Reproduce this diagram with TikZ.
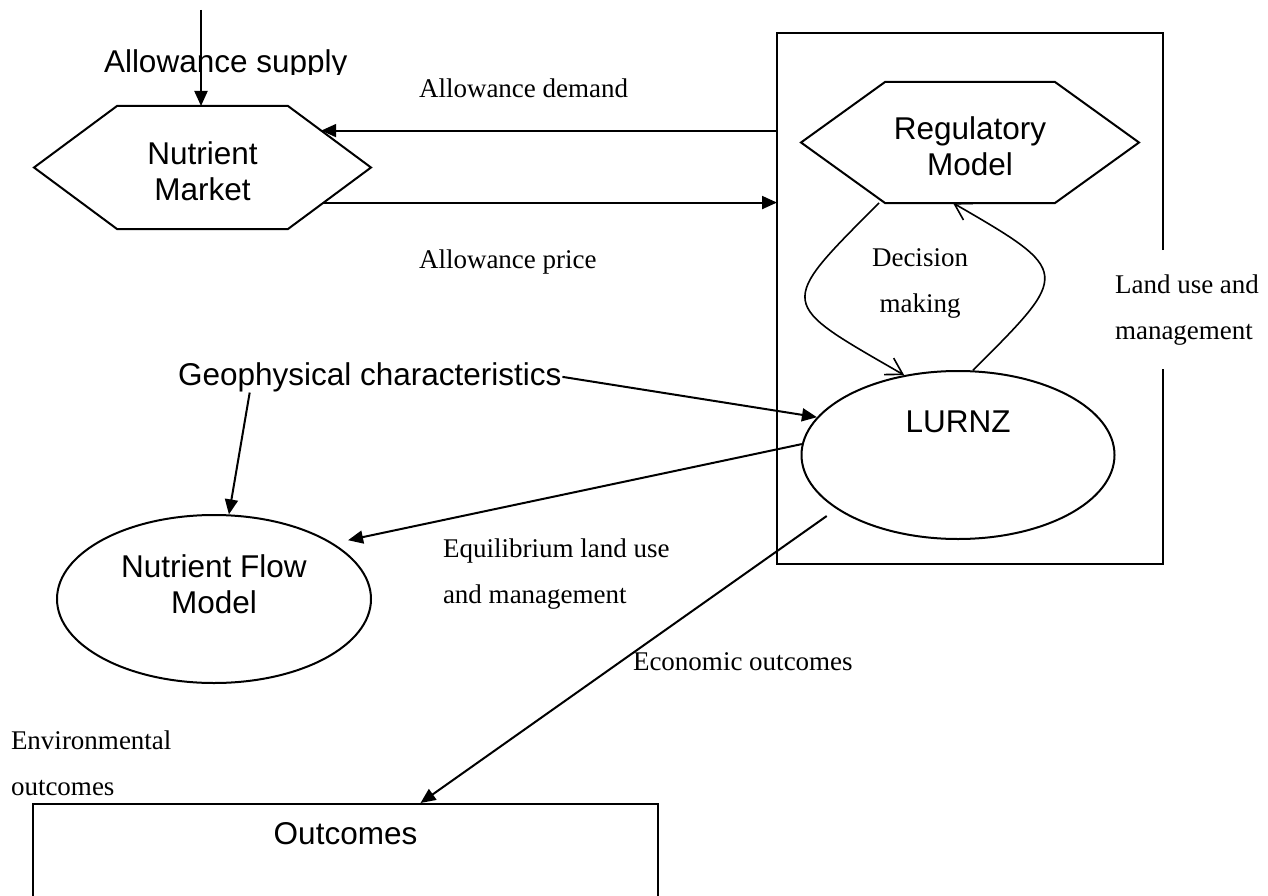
\documentclass[tikz,border=0pt]{standalone}
\usepackage{fontspec}
\setmainfont{Liberation Serif}
\setsansfont{Liberation Sans}
\usetikzlibrary{shapes.geometric,arrows.meta,calc}

\newcommand{\hexoutline}[2]{%
  \coordinate (#1-nw) at ([xshift=#2]#1.north west);
  \coordinate (#1-ne) at ([xshift=-#2]#1.north east);
  \coordinate (#1-se) at ([xshift=-#2]#1.south east);
  \coordinate (#1-sw) at ([xshift=#2]#1.south west);
  \draw (#1.west) -- (#1-nw) -- (#1-ne) -- (#1.east) -- (#1-se) -- (#1-sw) -- cycle;}

\begin{document}
\begin{tikzpicture}[x=1pt,y=-1pt,line width=2pt,
  bigtext/.style={font=\sffamily\fontsize{31.5}{36}\selectfont,align=center,inner sep=0pt},
  smalltext/.style={font=\rmfamily\fontsize{27}{46}\selectfont,align=left,inner sep=0pt},
  hexa/.style={minimum height=121pt,inner sep=0pt},
  oval/.style={ellipse,draw,minimum width=313pt,minimum height=168pt,inner sep=0pt},
  arr/.style={-{Triangle[length=15pt,width=13pt]}},
  barb/.style={-{Straight Barb[length=16pt,width=19pt]},line width=1.6pt}]
\useasboundingbox (0,0) rectangle (1268,896);
\clip (0,0) rectangle (1268,896);
\node[hexa,minimum width=335pt,label={[bigtext,yshift=-4pt]center:Nutrient\\Market}] (market) at (202.5,167.5) {};
\hexoutline{market}{83pt}
\node[minimum width=384pt,minimum height=529pt,inner sep=0pt] (frame) at (970,298.5) {};
\draw (frame.east |- 0,250) -- (frame.north east) -- (frame.north west)
  -- (frame.south west) -- (frame.south east) -- (frame.east |- 0,369);
\node[hexa,minimum width=336pt,minimum height=119pt,label={[bigtext,yshift=-4pt]center:Regulatory\\Model}] (reg) at (970,142.5) {};
\hexoutline{reg}{84pt}
\node[oval,label={[bigtext,yshift=33pt]center:LURNZ}] (lurnz) at (958,455) {};
\node[oval,minimum width=314pt,label={[bigtext,yshift=15pt]center:Nutrient Flow\\Model}] (nflow) at (214,599) {};
\node[draw,minimum width=625pt,minimum height=160pt,anchor=north,label={[bigtext,yshift=50pt]center:Outcomes}] (outc) at (345.5,803) {};
\node[bigtext,anchor=base west] (geo) at (177,385) {Geophysical characteristics};
\begin{scope}
\clip (90,40) rectangle (360,75);
\node[bigtext,anchor=base west] (supplytxt) at (103,73) {Allowance supply};
\end{scope}
\coordinate (supply) at (201,10);
\coordinate (mkin) at ($(market-ne)!0.4!(market.east)$);
\coordinate (mkout) at ($(market.east)!0.57!(market-se)$);
\draw[arr] (supply) -- (supply |- market.north);
\draw[arr] (frame.west |- mkin) -- (mkin);
\draw[arr] (mkout) -- (frame.west |- mkout);
\draw[barb] ([xshift=-6pt]reg-sw) to[out=-135,in=150,looseness=2.15] (lurnz.124);
\draw[barb] (lurnz.80) to[out=45,in=-30,looseness=2.1] ($(reg-sw)!0.4!(reg-se)$);
\draw[arr] (geo.east) -- (lurnz.165);
\draw[arr] ([xshift=-120pt]geo.south) -- (nflow.80);
\draw[arr,shorten >=15pt] (lurnz.176) -- (nflow.25);
\draw[arr,shorten <=12pt] (lurnz.204) -- ([xshift=75pt]outc.north);
\node[smalltext,anchor=base west] (demand) at (418,98) {Allowance demand};
\node[smalltext,anchor=base west] (price) at (418,268) {Allowance price};
\node[smalltext,anchor=north,align=center] (decide) at (920,247.6) {Decision\\making};
\node[smalltext,anchor=north west] (landuse) at (1114,273.6) {Land use and\\management};
\node[smalltext,anchor=north west] (equil) at (442,537.6) {Equilibrium land use\\and management};
\node[smalltext,anchor=base west] (econ) at (632,670) {Economic outcomes};
\node[smalltext,anchor=north west] (envir) at (10,729.6) {Environmental\\outcomes};
\end{tikzpicture}
\end{document}
